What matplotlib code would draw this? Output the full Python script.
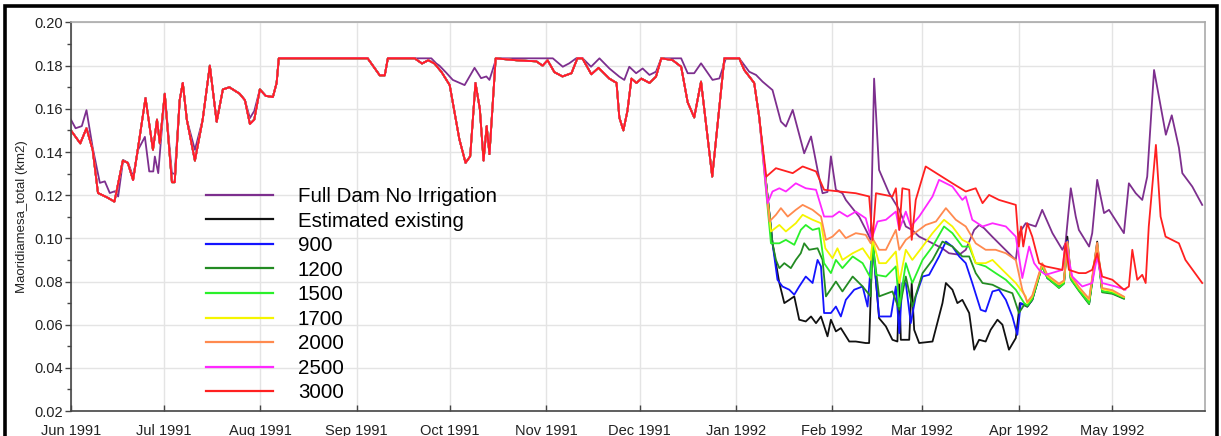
import datetime as dt
import matplotlib
matplotlib.use("Agg")
import matplotlib.pyplot as plt
import matplotlib.dates as mdates
from matplotlib.patches import Rectangle
from matplotlib.ticker import MultipleLocator

plt.rcParams['font.family'] = ['Liberation Sans', 'DejaVu Sans']

START = dt.datetime(1991, 6, 1)

# ---------------- data (day offset from 1 Jun 1991, value km2) ----------------
fdni_days = [0, 1.5, 3.5, 5, 7, 9.3, 10.9, 12.5, 14.1, 15.2, 16.8, 18.4, 20, 21.6, 23.8, 25.2, 26.5, 27, 28.1,
             30.2, 32.5, 33.4, 35, 36, 37.3, 39.9, 42.4, 44.7, 46.9, 48.9, 51, 54.3, 56, 57.6, 59, 60.8, 62.7,
             65, 66.2, 66.9, 95.5, 99.4, 101, 102, 116, 117.6, 118.6, 120.8, 122.9, 126.7, 129.9, 132, 133.7,
             134.7, 136.9, 155.1, 158.3, 160.4, 162.6, 164.7, 167.4, 170.1, 173.3, 176.5, 178.1, 179.7, 181.9,
             184, 186.2, 188.3, 190, 196.4, 198.5, 200.6, 202.8, 206.5, 208.7, 210.8, 215.1, 218.3, 220.5,
             222.6, 225.8, 228.5, 230.1, 232.3, 236, 238.2, 240.3, 241.9, 243.5, 244.6, 246.2, 248.3, 249.4,
             253.7, 256.4, 257.4, 258.5, 260.1, 263.3, 266.6, 268.7, 270.7, 273, 276.2, 280.4, 282.6, 285.9,
             288, 290.7, 292.3, 293.9, 296.5, 299.7, 302.9, 304.1, 305.2, 307.3, 310.5, 312.6, 315.9, 319.1,
             320.1, 321.8, 323.4, 324.4, 327.7, 328.7, 330.3, 332.5, 334.1, 338.9, 340.5, 342.7, 344.8, 346.4,
             348.6, 352.4, 354.3, 356.6, 357.7, 360.9, 364.1]
fdni_vals = [0.155, 0.151, 0.152, 0.1594, 0.142, 0.1257, 0.1264, 0.121, 0.1218, 0.1194, 0.1363, 0.135, 0.1286,
             0.141, 0.147, 0.131, 0.131, 0.1379, 0.1302, 0.167, 0.130, 0.130, 0.164, 0.172, 0.155, 0.141, 0.155,
             0.180, 0.154, 0.169, 0.170, 0.167, 0.164, 0.1557, 0.159, 0.169, 0.166, 0.1655, 0.172, 0.1834,
             0.1834, 0.1755, 0.1755, 0.1834, 0.1834, 0.181, 0.180, 0.1767, 0.1734, 0.171, 0.179, 0.1742, 0.175,
             0.1734, 0.1834, 0.1834, 0.1795, 0.1811, 0.1834, 0.1834, 0.1795, 0.1834, 0.1787, 0.1749, 0.1734,
             0.1795, 0.1765, 0.1787, 0.1757, 0.1772, 0.1834, 0.1834, 0.1765, 0.1765, 0.1811, 0.1734, 0.1741,
             0.1834, 0.1834, 0.1772, 0.1757, 0.1726, 0.1687, 0.1541, 0.1518, 0.1595, 0.1394, 0.1472, 0.1317,
             0.1209, 0.1215, 0.138, 0.1225, 0.1209, 0.1178, 0.110, 0.1024, 0.0993, 0.174, 0.1317, 0.121, 0.1132,
             0.1055, 0.1039, 0.1008, 0.0985, 0.0954, 0.0931, 0.0924, 0.0947, 0.1039, 0.1062, 0.1047, 0.1008,
             0.0962, 0.0916, 0.090, 0.1024, 0.107, 0.1055, 0.1132, 0.1024, 0.0947, 0.0977, 0.1232, 0.1101,
             0.1039, 0.0962, 0.1024, 0.1271, 0.1117, 0.1132, 0.1024, 0.1255, 0.1209, 0.1178, 0.1286, 0.178,
             0.148, 0.157, 0.142, 0.1302, 0.124, 0.1155]

# path shared by all irrigation scenarios until early January 1992
shared_days = [0, 3, 5, 7, 8.7, 11.6, 14, 16.7, 18.3, 20, 21.5, 24, 26.4, 27.7, 28.6, 30.2, 32.5, 33.4, 35, 36,
               37.3, 39.9, 42.4, 44.7, 46.9, 48.9, 51, 54.3, 56, 57.6, 59, 60.8, 62.7, 65, 66.2, 66.9, 95.5,
               99.4, 101, 102, 110.6, 113, 115, 117, 119.3, 121.9, 125, 127, 128.5, 130.2, 131.6, 132.8, 133.8,
               134.7, 136.7, 143.4, 149.8, 151.8, 153.4, 155.6, 158.2, 161.1, 163, 164.6, 167.5, 169.8, 173.3,
               175.6, 176.5, 177.8, 179.1, 180.4, 182, 183.6, 186.2, 188.3, 190, 193.6, 196.4, 198.5, 200.6,
               202.8, 206.4, 210.3, 215.1, 216.7, 219.9, 221.5]
shared_vals = [0.150, 0.144, 0.151, 0.141, 0.121, 0.119, 0.117, 0.136, 0.135, 0.127, 0.141, 0.165, 0.141, 0.155,
               0.144, 0.167, 0.126, 0.126, 0.164, 0.172, 0.155, 0.136, 0.155, 0.180, 0.154, 0.169, 0.170, 0.167,
               0.164, 0.153, 0.155, 0.169, 0.166, 0.1655, 0.172, 0.1834, 0.1834, 0.1755, 0.1755, 0.1834,
               0.1834, 0.181, 0.1825, 0.181, 0.177, 0.171, 0.146, 0.135, 0.138, 0.172, 0.160, 0.136, 0.152,
               0.139, 0.1834, 0.1825, 0.182, 0.180, 0.1825, 0.177, 0.175, 0.1765, 0.1834, 0.1834, 0.176, 0.179,
               0.174, 0.172, 0.156, 0.150, 0.159, 0.174, 0.172, 0.174, 0.172, 0.1749, 0.1834, 0.1826, 0.1795,
               0.163, 0.156, 0.1726, 0.1286, 0.1834, 0.1834, 0.178, 0.172, 0.1564]

# scenario-specific paths after divergence
tail_common_days = [307.8, 309.4, 312.6, 314.3, 318, 319.6, 320.7, 321.8, 324.4, 327.7, 330.3, 331.9, 335.2, 338.9]

exist_days = [225.8, 228, 229.6, 231.2, 232.8, 234.4, 236.5, 238.2, 239.8, 241.4, 243.5, 244.6, 246.2, 247.8,
              250.5, 252.6, 255.8, 256.9, 258, 260.1, 262.3, 264.4, 266, 266.6, 267.1, 269.8, 270.6, 271.4, 273,
              277.3, 280.5, 281.6, 283.7, 285.3, 286.9, 289.1, 290.7, 292.3, 294.4, 296, 298.2, 299.8, 301.9,
              304.1, 305.4] + tail_common_days
exist_vals = [0.0977, 0.0793, 0.070, 0.0715, 0.0731, 0.0623, 0.0615, 0.0638, 0.0607, 0.0638, 0.0546, 0.0623,
              0.0569, 0.0584, 0.0522, 0.0522, 0.0515, 0.0515, 0.0990, 0.063, 0.0592, 0.053, 0.0522, 0.0808, 0.053,
              0.053, 0.0793, 0.0576, 0.0515, 0.0522, 0.070, 0.0793, 0.0762, 0.070, 0.0715, 0.0654, 0.0484, 0.053,
              0.0522, 0.0576, 0.0623, 0.060, 0.0484, 0.0538, 0.0700,
              0.0684, 0.0715, 0.0877, 0.0816, 0.0777, 0.0793, 0.1008, 0.0816, 0.0762, 0.0700, 0.0985, 0.0754,
              0.0746, 0.0723]

s900_days = [225.8, 227.4, 229, 231.2, 232.8, 234.4, 236.5, 238.7, 240.3, 241.4, 242.4, 244.6, 246.2, 247.8,
             249.4, 252.1, 254.8, 256.4, 258, 260.1, 263.9, 265.5, 266.6, 267.6, 268.7, 270.3, 271.9, 274.1,
             276.2, 279.4, 281.6, 283.7, 285.9, 288, 290.1, 292.8, 294.4, 296.6, 298.7, 300.9, 303, 304.6,
             305.7] + tail_common_days
s900_vals = [0.0977, 0.0808, 0.0777, 0.0762, 0.0739, 0.0777, 0.0823, 0.0793, 0.090, 0.087, 0.0654, 0.0654,
             0.0684, 0.0638, 0.0715, 0.0762, 0.0777, 0.0684, 0.0985, 0.0638, 0.0638, 0.0777, 0.0561, 0.0793,
             0.0793, 0.0607, 0.0731, 0.0823, 0.0831, 0.0916, 0.0985, 0.0962, 0.0916, 0.0885, 0.0793, 0.0669,
             0.0661, 0.0754, 0.0762, 0.0715, 0.0638, 0.0553, 0.0700,
             0.0684, 0.0715, 0.0877, 0.0816, 0.0777, 0.0793, 0.0990, 0.0816, 0.0762, 0.0700, 0.0970, 0.0754,
             0.0746, 0.0723]

s1200_days = [225.8, 226.9, 228, 229.6, 231.7, 233.3, 234.9, 236, 237.6, 240.3, 241.9, 243, 246.2, 248.3, 251.6,
              254.8, 257.4, 258, 260.1, 264.4, 266.6, 268.7, 270.8, 274.1, 277.3, 280.5, 283.7, 286.9, 289.1,
              291.2, 293.4, 296.6, 299.8, 303, 305.1, 306.8] + tail_common_days
s1200_vals = [0.0977, 0.090, 0.0862, 0.0885, 0.0862, 0.090, 0.0931, 0.0977, 0.0947, 0.0954, 0.090, 0.0731,
              0.080, 0.0754, 0.0823, 0.0777, 0.0731, 0.0985, 0.0731, 0.0754, 0.0669, 0.0823, 0.0684, 0.0839,
              0.090, 0.0985, 0.0962, 0.0916, 0.0916, 0.0839, 0.0793, 0.0785, 0.0762, 0.0746, 0.0654, 0.0692,
              0.0684, 0.0715, 0.0870, 0.0816, 0.0770, 0.0790, 0.0970, 0.0810, 0.0757, 0.0695, 0.0960, 0.0750,
              0.0743, 0.0720]

s1500_days = [225.3, 228, 230.1, 232.8, 234.9, 236.5, 238.7, 240.8, 242.4, 244.6, 246.2, 248.3, 251.6, 254.8,
              257.4, 258, 259.1, 262.3, 265.5, 266.6, 268.7, 270.8, 274.1, 277.3, 281, 283.7, 286.9, 289.1, 291.2,
              294.4, 297.6, 300.9, 304.1, 306.8] + tail_common_days
s1500_vals = [0.0977, 0.0977, 0.0993, 0.097, 0.1039, 0.1062, 0.1039, 0.1047, 0.0885, 0.0839, 0.090, 0.0862,
              0.0916, 0.0885, 0.0816, 0.0990, 0.0831, 0.0823, 0.087, 0.0684, 0.0885, 0.0793, 0.090, 0.0962,
              0.1055, 0.1024, 0.0962, 0.0962, 0.0885, 0.087, 0.0839, 0.0808, 0.0762, 0.0700,
              0.0690, 0.0720, 0.0872, 0.0818, 0.0772, 0.0792, 0.0975, 0.0812, 0.0760, 0.0700, 0.0965, 0.0755,
              0.0748, 0.0725]

s1700_days = [225.3, 228, 230.1, 233.3, 235.5, 238.7, 241.4, 242.8, 245.1, 246.7, 248.3, 251.6, 254.8, 257.4,
              258, 260.1, 262.3, 265.5, 266.6, 268.7, 270.8, 274.1, 277.3, 281, 283.7, 286.9, 289.1, 291.2, 294.4,
              296.6, 299.8, 304.1, 307.3] + tail_common_days
s1700_vals = [0.1032, 0.1062, 0.1032, 0.107, 0.1109, 0.1086, 0.107, 0.0954, 0.0908, 0.0954, 0.090, 0.0931,
              0.0954, 0.090, 0.0995, 0.0885, 0.0885, 0.0939, 0.0793, 0.0947, 0.090, 0.0962, 0.1024, 0.1086,
              0.1055, 0.0993, 0.0977, 0.0885, 0.0885, 0.090, 0.0854, 0.0793, 0.0731,
              0.0700, 0.0730, 0.0880, 0.0825, 0.0785, 0.0800, 0.0980, 0.0825, 0.0770, 0.0715, 0.0975, 0.0765,
              0.0755, 0.0728]

s2000_days = [224.8, 226.9, 228.5, 230.7, 233.3, 235.5, 238.7, 241.4, 243, 245.1, 247.3, 249.4, 252.6, 255.8,
              257.4, 258, 260.1, 262.3, 265.5, 266.6, 268.7, 270.8, 275.1, 278.4, 281.6, 284.8, 288, 291.2,
              294.4, 297.6, 300.9, 304.1, 306.2] + tail_common_days
s2000_vals = [0.1078, 0.1109, 0.114, 0.1101, 0.1132, 0.1155, 0.1132, 0.1101, 0.0993, 0.1008, 0.1039, 0.1001,
              0.1024, 0.1016, 0.0977, 0.1000, 0.0947, 0.0947, 0.1039, 0.0947, 0.0993, 0.1016, 0.1062, 0.1078,
              0.114, 0.1086, 0.1055, 0.0977, 0.0947, 0.0947, 0.0931, 0.090, 0.0762,
              0.0705, 0.0735, 0.0885, 0.0830, 0.0790, 0.0805, 0.0985, 0.0830, 0.0775, 0.0720, 0.0980, 0.0770,
              0.0760, 0.0730]

s2500_days = [224.2, 225.8, 228, 230.1, 233.3, 236.5, 239.8, 242.4, 245.1, 247.3, 249.9, 252.6, 255.8, 257.4,
              258, 259.6, 262.3, 265.5, 266.6, 268.7, 270.3, 273, 277.3, 279.4, 283.7, 286.9, 288, 290.1, 293.4,
              296.6, 300.9, 304.1, 306.2, 308.4, 310, 311.6, 313.7, 319.1, 320.1, 322.3, 325.5, 328.7, 330.3,
              331.9, 336.2, 339.4]
s2500_vals = [0.1163, 0.1217, 0.1232, 0.1217, 0.1255, 0.1232, 0.1225, 0.1101, 0.1101, 0.1124, 0.1101, 0.1124,
              0.1093, 0.1008, 0.1010, 0.1078, 0.1086, 0.1124, 0.1039, 0.1124, 0.1055, 0.1101, 0.1194, 0.1271,
              0.124, 0.1178, 0.1194, 0.1086, 0.1055, 0.107, 0.1055, 0.1008, 0.0816, 0.0962, 0.0885, 0.0854,
              0.0831, 0.0854, 0.0977, 0.0823, 0.0777, 0.0793, 0.0916, 0.0793, 0.0777, 0.0762]

s3000_days = [223.8, 226.9, 232.3, 235.5, 239.8, 242.4, 247.3, 252.6, 256.9, 258, 259.1, 264.4, 265.5, 266.6,
              267.6, 269.8, 270.6, 271.9, 275.1, 279.4, 283.7, 288, 291.2, 293.4, 295.5, 298.7, 304.1, 305.1,
              305.8, 306.5, 307.8, 309.4, 311.6, 313.7, 319.1, 320.1, 321.2, 324.4, 326.6, 328.7, 330.3, 331.9,
              335.2, 338.9, 340.5, 341.6, 343.2, 344.8, 345.9, 346.9, 349.2, 350.7, 352.3, 356.6, 358.7, 364.1]
s3000_vals = [0.1286, 0.1325, 0.1302, 0.1333, 0.131, 0.1225, 0.1217, 0.1209, 0.1194, 0.0993, 0.1209, 0.1194,
              0.1232, 0.1039, 0.1232, 0.1225, 0.0993, 0.1178, 0.1333, 0.1294, 0.1255, 0.1217, 0.1232, 0.1163,
              0.1201, 0.1178, 0.1155, 0.0962, 0.1055, 0.0962, 0.107, 0.1008, 0.0885, 0.087, 0.0854, 0.0977,
              0.0854, 0.0839, 0.0839, 0.0854, 0.0931, 0.0823, 0.0808, 0.0762, 0.0777, 0.0947, 0.0808, 0.0831,
              0.0793, 0.1055, 0.1433, 0.1101, 0.1008, 0.0977, 0.090, 0.0793]

labels = ["Full Dam No Irrigation", "Estimated existing", "900", "1200", "1500", "1700", "2000", "2500", "3000"]
colors = ["#7d2f8e", "#111111", "#1414ff", "#238b23", "#2af02a", "#f5f500", "#ff8a4f", "#ff28ff", "#ff2020"]

series = [
    (fdni_days, fdni_vals),
    (shared_days + exist_days, shared_vals + exist_vals),
    (shared_days + s900_days, shared_vals + s900_vals),
    (shared_days + s1200_days, shared_vals + s1200_vals),
    (shared_days + s1500_days, shared_vals + s1500_vals),
    (shared_days + s1700_days, shared_vals + s1700_vals),
    (shared_days + s2000_days, shared_vals + s2000_vals),
    (shared_days + s2500_days, shared_vals + s2500_vals),
    (shared_days + s3000_days, shared_vals + s3000_vals),
]

# ---------------- figure ----------------
fig = plt.figure(figsize=(12.21, 4.36), dpi=100)
ax = fig.add_axes([0.0581, 0.0573, 0.9288, 0.8911])

for (d, v), lab, col in zip(series, labels, colors):
    x = [mdates.date2num(START + dt.timedelta(days=k)) for k in d]
    ax.plot(x, v, color=col, lw=1.3, label=lab)

ax.set_xlim(mdates.date2num(dt.datetime(1991, 6, 1)), mdates.date2num(dt.datetime(1992, 5, 31)))
ax.set_ylim(0.02, 0.20)
ax.yaxis.set_major_locator(MultipleLocator(0.02))
ax.yaxis.set_minor_locator(MultipleLocator(0.01))
ax.yaxis.set_major_formatter(matplotlib.ticker.FormatStrFormatter('%.2f'))
ax.xaxis.set_major_locator(mdates.MonthLocator())
ax.xaxis.set_major_formatter(mdates.DateFormatter('%b %Y'))

ax.grid(True, which='major', color='#e4e4e4', lw=1.0)
ax.set_axisbelow(True)
ax.tick_params(axis='y', which='major', direction='out', length=4, width=1, color='#444444',
               labelsize=10.5, labelcolor='#222222', pad=2)
ax.tick_params(axis='y', which='minor', direction='out', length=3, width=1, color='#444444')
ax.tick_params(axis='x', which='major', direction='in', length=4, width=1, color='#444444',
               labelsize=10.5, labelcolor='#222222', pad=9)
for s in ['left', 'bottom']:
    ax.spines[s].set_color('#444444')
    ax.spines[s].set_linewidth(1.2)
for s in ['top', 'right']:
    ax.spines[s].set_color('#aaaaaa')
    ax.spines[s].set_linewidth(1.2)

ax.set_ylabel("Maoridiamesa_total (km2)", fontsize=9.5, color='#222222', labelpad=4)

leg = ax.legend(loc='upper left', bbox_to_anchor=(0.105, 0.619), frameon=False, fontsize=14.8,
                handlelength=3.25, handletextpad=1.2, labelspacing=0.27, borderpad=0.3)
for line in leg.get_lines():
    line.set_linewidth(1.6)

fig.patches.append(Rectangle((0.0045, -0.02), 0.9925, 1.006, transform=fig.transFigure, fill=False,
                             edgecolor='black', lw=2.6, zorder=10))

fig.savefig("out.png", dpi=100)
